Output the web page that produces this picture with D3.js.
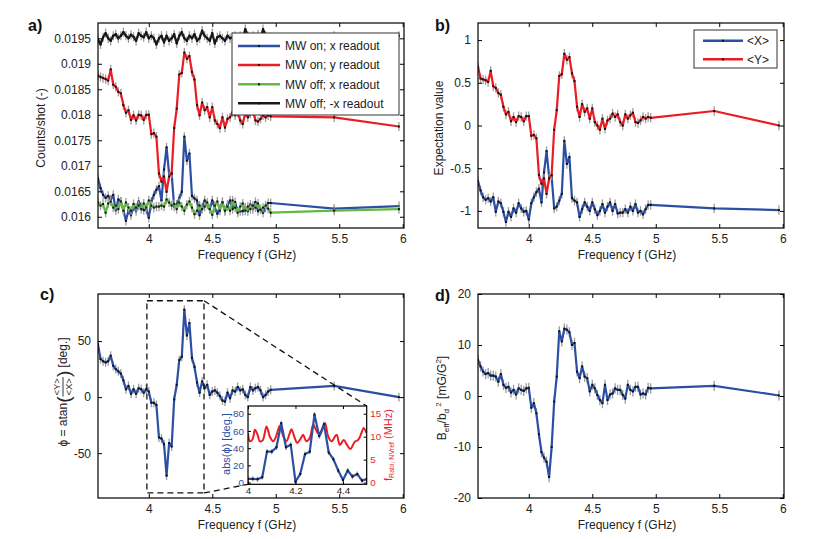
<!DOCTYPE html>
<html><head><meta charset="utf-8">
<script src="https://cdn.jsdelivr.net/npm/d3@7"></script>
<style>
body{margin:0;background:#fff;}
svg{font-family:"Liberation Sans",Arial,Helvetica,sans-serif;}
</style></head><body>
<svg id="c" width="830" height="539"></svg>
<script>
// ---------------- data ----------------
const freq = [3.60,3.62,3.64,3.66,3.68,3.70,3.72,3.74,3.76,3.78,3.80,3.82,3.84,3.86,3.88,3.90,3.92,3.94,3.96,3.98,
  4.00,4.02,4.04,4.06,4.08,4.10,4.12,4.14,4.16,4.18,4.20,4.22,4.24,4.26,4.28,4.30,4.32,4.34,4.36,4.38,
  4.40,4.42,4.44,4.46,4.48,4.50,4.52,4.54,4.56,4.58,4.60,4.62,4.64,4.66,4.68,4.70,4.72,4.74,4.76,4.78,
  4.80,4.82,4.84,4.86,4.88,4.90,4.92,4.94,4.96,5.46,5.97];

const countsOnX = [0.01675,0.01656,0.01643,0.01637,0.01641,0.01634,0.01643,0.01613,0.01634,0.01630,
  0.01613,0.01592,0.01613,0.01603,0.01620,0.01611,0.01630,0.01620,0.01613,0.01615,
  0.01598,0.01630,0.01643,0.01653,0.01660,0.01632,0.01693,0.01736,0.01684,0.01684,
  0.01620,0.01624,0.01636,0.01649,0.01757,0.01710,0.01724,0.01641,0.01636,0.01632,
  0.01603,0.01618,0.01632,0.01624,0.01615,0.01632,0.01618,0.01606,0.01615,0.01629,
  0.01611,0.01624,0.01632,0.01615,0.01629,0.01610,0.01611,0.01611,0.01618,0.01611,
  0.01624,0.01615,0.01629,0.01611,0.01615,0.01608,0.01618,0.01627,0.01627,0.01616,0.01621];

const countsOnY = [0.01877,0.01874,0.01872,0.01870,0.01867,0.01889,0.01859,0.01855,0.01845,0.01842,
  0.01819,0.01804,0.01809,0.01790,0.01799,0.01789,0.01800,0.01799,0.01790,0.01800,
  0.01800,0.01762,0.01764,0.01757,0.01685,0.01669,0.01679,0.01649,0.01679,0.01685,
  0.01774,0.01812,0.01879,0.01882,0.01922,0.01910,0.01915,0.01884,0.01869,0.01819,
  0.01799,0.01824,0.01809,0.01815,0.01795,0.01815,0.01789,0.01782,0.01774,0.01795,
  0.01775,0.01792,0.01795,0.01805,0.01799,0.01804,0.01789,0.01782,0.01804,0.01795,
  0.01802,0.01807,0.01789,0.01787,0.01792,0.01799,0.01795,0.01799,0.01797,0.01795,0.01777];

const countsOffX = [0.01628,0.01622,0.01625,0.01608,0.01626,0.01630,0.01618,0.01622,0.01615,0.01630,
  0.01612,0.01628,0.01618,0.01612,0.01625,0.01618,0.01622,0.01615,0.01626,0.01618,
  0.01632,0.01622,0.01618,0.01620,0.01620,0.01622,0.01620,0.01634,0.01628,0.01622,
  0.01625,0.01615,0.01628,0.01620,0.01612,0.01624,0.01630,0.01618,0.01605,0.01612,
  0.01622,0.01615,0.01620,0.01628,0.01615,0.01604,0.01622,0.01630,0.01612,0.01628,
  0.01612,0.01620,0.01612,0.01632,0.01618,0.01608,0.01620,0.01626,0.01612,0.01620,
  0.01615,0.01622,0.01618,0.01626,0.01614,0.01618,0.01622,0.01616,0.01608,0.01612,0.01615];

const countsOffMinusX = [0.01948,0.01938,0.01952,0.01960,0.01950,0.01945,0.01955,0.01958,0.01950,0.01955,
  0.01962,0.01955,0.01950,0.01957,0.01953,0.01945,0.01960,0.01955,0.01952,0.01962,
  0.01950,0.01955,0.01950,0.01938,0.01950,0.01955,0.01942,0.01955,0.01945,0.01950,
  0.01958,0.01940,0.01955,0.01962,0.01950,0.01945,0.01955,0.01950,0.01958,0.01945,
  0.01950,0.01965,0.01955,0.01950,0.01945,0.01960,0.01940,0.01952,0.01955,0.01950,
  0.01945,0.01955,0.01950,0.01952,0.01955,0.01950,0.01955,0.01950,0.01968,0.01955,
  0.01950,0.01955,0.01952,0.01958,0.01950,0.01968,0.01955,0.01950,0.01952,0.01955,0.01955];

const expX = [-0.65,-0.76,-0.84,-0.87,-0.85,-0.89,-0.84,-1.01,-0.89,-0.91,
  -1.01,-1.13,-1.01,-1.07,-0.97,-1.02,-0.91,-0.97,-1.01,-1.00,
  -1.10,-0.91,-0.84,-0.78,-0.74,-0.90,-0.55,-0.30,-0.60,-0.60,
  -0.97,-0.95,-0.88,-0.80,-0.18,-0.45,-0.37,-0.85,-0.88,-0.90,
  -1.07,-0.98,-0.90,-0.95,-1.00,-0.90,-0.98,-1.05,-1.00,-0.92,
  -1.02,-0.95,-0.90,-1.00,-0.92,-1.03,-1.02,-1.02,-0.98,-1.02,
  -0.95,-1.00,-0.92,-1.02,-1.00,-1.04,-0.98,-0.93,-0.93,-0.97,-0.99];

const expY = [0.69,0.55,0.54,0.53,0.51,0.64,0.46,0.44,0.38,0.36,
  0.22,0.13,0.16,0.05,0.10,0.04,0.11,0.10,0.05,0.11,
  0.11,-0.12,-0.11,-0.15,-0.58,-0.68,-0.62,-0.80,-0.62,-0.58,
  -0.05,0.18,0.58,0.60,0.84,0.77,0.80,0.61,0.52,0.22,
  0.10,0.25,0.16,0.20,0.08,0.20,0.04,0.00,-0.05,0.08,
  -0.04,0.06,0.08,0.14,0.10,0.13,0.04,0.00,0.13,0.08,
  0.12,0.15,0.04,0.03,0.06,0.10,0.08,0.10,0.09,0.17,0.00];

const phi = [47,34,32,31,32,37,28,25,23,21,
  15,7,10,3,7,3,8,7,4,7,
  5,-5,-5,-7,-36,-37,-42,-70,-41,-44,
  -2,11,33,36,78,55,66,35,27,13,
  4,14,8,11,2,5,6,4,1,-3,
  -4,4,-1,6,5,9,6,7,2,0,
  9,6,8,9,6,0,2,5,6.5,10,0];

const bEff = [7.1,5.8,4.8,4.3,4.5,4.0,4.0,3.8,2.8,4.3,
  2.2,1.6,1.8,0.7,1.2,0.3,1.5,1.2,1.0,1.5,
  1.6,-2.3,-1.4,-3.4,-7.5,-11,-12.1,-12.9,-15.9,-10,
  -1.1,3.8,12.7,10.7,13.2,13,12.5,10,10.4,4.8,
  3.5,5.8,3.8,3.5,0.9,2.2,1.5,0.2,-0.8,-1.4,
  2.2,-0.8,0.3,0.5,1.5,1.2,1.2,0.2,-0.5,2.2,
  1.2,0.9,1.8,1.8,0.3,0.5,0.3,1.6,1.5,2.0,0.1];

const insetFreq = [4.00,4.02,4.04,4.06,4.08,4.10,4.12,4.14,4.16,4.18,4.20,4.22,4.24,4.26,4.28,4.30,4.32,4.34,4.36,4.38,4.40,4.42,4.44,4.46,4.48,4.50];
const insetAbsPhi = [4.3,4.3,3.9,6.2,36,36,41,69,41,44,1.2,10,33,36,79,54,68,35,27,14,3,14,7,10,2.3,4];

const rabiFreq = [4.000,4.008,4.020,4.029,4.039,4.050,4.062,4.078,4.092,4.106,4.118,4.134,4.148,4.162,4.176,4.183,4.197,4.207,4.221,4.232,4.246,4.260,4.275,4.289,4.303,4.324,4.338,4.352,4.373,4.387,4.403,4.417,4.431,4.450,4.464,4.478,4.487,4.499];
const rabiVal  = [10.8,9.0,9.5,11.5,10.6,9.0,9.2,12.2,10.0,9.0,10.0,12.4,10.2,9.0,10.8,11.6,9.7,8.6,9.5,10.4,9.0,9.7,12.6,11.2,10.4,13.0,10.0,9.0,10.4,8.2,9.3,8.2,7.3,8.9,9.3,10.8,11.9,10.8];

const xTicks = [4,4.5,5,5.5,6];
const aTicks = [0.016,0.0165,0.017,0.0175,0.018,0.0185,0.019,0.0195];
const bTicks = [-1,-0.5,0,0.5,1];
const cTicks = [-50,0,50];
const dTicks = [-20,-10,0,10,20];
const insetXTicks = [4,4.2,4.4];
const insetLTicks = [0,20,40,60,80];
const insetRTicks = [0,5,10,15];
const legendA = ["MW on; x readout","MW on; y readout","MW off; x readout","MW off; -x readout"];
const legendB = ["<X>","<Y>"];

const errA = 0.00009, errB = 0.055, errC = 4, errD = 1.0, errI = 3;
const BLUE = "#2c4ea3", RED = "#ec1c24", GREEN = "#62b946", BLACK = "#1a1a1a";

// ---------------- helpers ----------------
const svg = d3.select("#c");
let clipN = 0;
function makePanel(o){
  const x = d3.scaleLinear().domain(o.xd).range([o.l, o.r]);
  const y = d3.scaleLinear().domain(o.yd).range([o.b, o.t]);
  const id = "clip" + (clipN++);
  svg.append("clipPath").attr("id", id).append("rect")
    .attr("x", o.l).attr("y", o.t).attr("width", o.r - o.l).attr("height", o.b - o.t);
  const g = svg.append("g");
  if (o.fill) g.append("rect").attr("x", o.l).attr("y", o.t).attr("width", o.r - o.l).attr("height", o.b - o.t).attr("fill", "#fff");
  const data = g.append("g").attr("clip-path", `url(#${id})`);
  return {x, y, g, data, o};
}
function drawAxes(p, cfg){
  const o = p.o, tk = cfg.tk || 4, fs = cfg.fs || 12;
  const ax = p.g.append("g");
  const b = ax.append("g").attr("transform", `translate(0,${o.b})`)
    .call(d3.axisBottom(p.x).tickValues(cfg.xt).tickFormat(String).tickSizeInner(-tk).tickSizeOuter(0).tickPadding(cfg.xpad || 6));
  b.selectAll("text").attr("fill", cfg.xcol || "#222");
  ax.append("g").attr("transform", `translate(0,${o.t})`)
    .call(d3.axisTop(p.x).tickValues(cfg.xt).tickFormat(() => "").tickSizeInner(-tk).tickSizeOuter(0));
  const l = ax.append("g").attr("transform", `translate(${o.l},0)`)
    .call(d3.axisLeft(p.y).tickValues(cfg.yt).tickFormat(String).tickSizeInner(-tk).tickSizeOuter(0).tickPadding(cfg.ypad || 7));
  l.selectAll("text").attr("fill", cfg.ycol || "#222");
  const ry = cfg.ry || p.y;
  const r = ax.append("g").attr("transform", `translate(${o.r},0)`)
    .call(d3.axisRight(ry).tickValues(cfg.ryt || cfg.yt).tickFormat(cfg.ryt ? String : () => "").tickSizeInner(-tk).tickSizeOuter(0).tickPadding(cfg.rpad || 5));
  r.selectAll("text").attr("fill", cfg.rcol || "#222");
  ax.selectAll(".domain").remove();
  ax.selectAll(".tick line").attr("stroke", "#000").attr("stroke-width", 1);
  ax.selectAll("text").attr("font-size", fs).attr("font-family", "Liberation Sans, Arial, sans-serif");
  ax.append("rect").attr("x", o.l).attr("y", o.t).attr("width", o.r - o.l).attr("height", o.b - o.t)
    .attr("fill", "none").attr("stroke", "#000").attr("stroke-width", 1.2);
}
function drawSeries(p, xs, ys, color, err, yScale){
  const ysc = yScale || p.y;
  const pts = xs.map((f, i) => ({f: f, v: ys[i]}));
  const g = p.data.append("g");
  g.selectAll("line").data(pts).join("line")
    .attr("x1", d => p.x(d.f)).attr("x2", d => p.x(d.f))
    .attr("y1", d => ysc(d.v - err)).attr("y2", d => ysc(d.v + err))
    .attr("stroke", "#9c9c9c").attr("stroke-width", 1.3);
  g.append("path").datum(pts)
    .attr("d", d3.line().x(d => p.x(d.f)).y(d => ysc(d.v)))
    .attr("fill", "none").attr("stroke", color).attr("stroke-width", 2.2).attr("stroke-linejoin", "round");
  g.selectAll("rect").data(pts).join("rect")
    .attr("x", d => p.x(d.f) - 1).attr("y", d => ysc(d.v) - 1)
    .attr("width", 2).attr("height", 2).attr("fill", "#111");
}
function label(text, x, y, opts){
  opts = opts || {};
  const t = svg.append("text").attr("x", x).attr("y", y)
    .attr("font-size", opts.fs || 12).attr("fill", opts.fill || "#222")
    .attr("text-anchor", opts.anchor || "middle");
  if (opts.bold) t.attr("font-weight", "bold");
  if (opts.rot) t.attr("transform", `rotate(-90,${x},${y})`);
  t.text(text);
  return t;
}
function legend(p, items, colors, box, rows, lineX, textX){
  const g = p.g.append("g");
  g.append("rect").attr("x", box[0]).attr("y", box[1]).attr("width", box[2]).attr("height", box[3])
    .attr("fill", "#fff").attr("stroke", "#333").attr("stroke-width", 1);
  items.forEach((s, i) => {
    const yy = rows[i];
    g.append("line").attr("x1", lineX[0]).attr("x2", lineX[1]).attr("y1", yy).attr("y2", yy)
      .attr("stroke", colors[i]).attr("stroke-width", 2.5);
    g.append("rect").attr("x", (lineX[0] + lineX[1]) / 2 - 1).attr("y", yy - 1).attr("width", 2).attr("height", 2).attr("fill", "#111");
    g.append("text").attr("x", textX).attr("y", yy + 4.3).attr("font-size", 12).attr("fill", "#222").text(s);
  });
}

const XD = [3.6, 6.01];

// ---------------- panel a ----------------
const pa = makePanel({l: 98, r: 404, t: 23, b: 228, xd: XD, yd: [0.01578, 0.0198]});
drawSeries(pa, freq, countsOnX, BLUE, errA);
drawSeries(pa, freq, countsOnY, RED, errA);
drawSeries(pa, freq, countsOffX, GREEN, errA);
drawSeries(pa, freq, countsOffMinusX, BLACK, errA);
drawAxes(pa, {xt: xTicks, yt: aTicks});
legend(pa, legendA, [BLUE, RED, GREEN, BLACK], [232, 33, 167, 82], [46, 65, 84.3, 103.3], [238, 280], 285);

// ---------------- panel b ----------------
const pb = makePanel({l: 478, r: 784, t: 23, b: 228, xd: XD, yd: [-1.2, 1.2]});
drawSeries(pb, freq, expX, BLUE, errB);
drawSeries(pb, freq, expY, RED, errB);
drawAxes(pb, {xt: xTicks, yt: bTicks});
legend(pb, legendB, [BLUE, RED], [694, 30, 83, 38], [40.7, 59.3], [703, 743], 747);

// ---------------- panel c ----------------
const pc = makePanel({l: 98, r: 404, t: 294, b: 498, xd: XD, yd: [-90, 92]});
drawSeries(pc, freq, phi, BLUE, errC);
drawAxes(pc, {xt: xTicks, yt: cTicks});

// inset
const pi = makePanel({l: 248, r: 366.7, t: 406, b: 484.3, xd: [4, 4.5], yd: [-2, 89], fill: true});
const yR = d3.scaleLinear().domain([-2 * 15 / 80, 89 * 15 / 80]).range([484.3, 406]);

// dashed zoom box + connectors (in data coordinates)
const dash = pc.g.append("g").attr("stroke", "#111").attr("stroke-width", 1.3).attr("stroke-dasharray", "6,4").attr("fill", "none");
dash.append("rect").attr("x", pc.x(3.985)).attr("y", pc.y(86)).attr("width", pc.x(4.435) - pc.x(3.985)).attr("height", pc.y(-85.5) - pc.y(86));
dash.append("line").attr("x1", pc.x(4.435)).attr("y1", pc.y(86)).attr("x2", pi.x(4.5)).attr("y2", pi.y(89));
dash.append("line").attr("x1", pc.x(4.435)).attr("y1", pc.y(-85.5)).attr("x2", pi.x(4)).attr("y2", pi.y(-2));
pi.g.raise();

pi.data.append("path").datum(rabiFreq.map((f, i) => [f, rabiVal[i]]))
  .attr("d", d3.line().x(d => pi.x(d[0])).y(d => yR(d[1])).curve(d3.curveCatmullRom))
  .attr("fill", "none").attr("stroke", RED).attr("stroke-width", 2);
drawSeries(pi, insetFreq, insetAbsPhi, BLUE, errI);
drawAxes(pi, {xt: insetXTicks, yt: insetLTicks, ry: yR, ryt: insetRTicks, tk: 3, fs: 9.8,
  xpad: 3, ypad: 4, rpad: 3.5, ycol: BLUE, rcol: RED, xcol: "#222"});

// ---------------- panel d ----------------
const pd = makePanel({l: 478, r: 784, t: 294, b: 498, xd: XD, yd: [-20, 20]});
drawSeries(pd, freq, bEff, BLUE, errD);
drawAxes(pd, {xt: xTicks, yt: dTicks});

// ---------------- texts ----------------
label("a)", 28, 31, {fs: 16, bold: true, anchor: "start", fill: "#111"});
label("b)", 435, 31, {fs: 16, bold: true, anchor: "start", fill: "#111"});
label("c)", 40, 300, {fs: 16, bold: true, anchor: "start", fill: "#111"});
label("d)", 435, 301, {fs: 16, bold: true, anchor: "start", fill: "#111"});

label("Frequency f (GHz)", 247, 259);
label("Frequency f (GHz)", 627, 259);
label("Frequency f (GHz)", 247, 529);
label("Frequency f (GHz)", 627, 529);

label("Counts/shot (-)", 45, 128, {rot: true});
label("Expectation value", 443, 128, {rot: true});

// panel c y label with fraction
(function(){
  const g = svg.append("g").attr("transform", "translate(67,392) rotate(-90)").attr("fill", "#222");
  const t1 = g.append("text").attr("font-size", 12).text("\u03D5 = atan");
  const p1 = g.append("text").attr("font-size", 19).attr("y", 3).text("(");
  const num = g.append("text").attr("font-size", 9.5).attr("y", -7).attr("text-anchor", "middle").text("<Y>");
  const den = g.append("text").attr("font-size", 9.5).attr("y", 5).attr("text-anchor", "middle").text("<X>");
  const p2 = g.append("text").attr("font-size", 19).attr("y", 3).text(")");
  const t2 = g.append("text").attr("font-size", 12).text("\u00A0[deg.]");
  const w1 = t1.node().getComputedTextLength(), wp = p1.node().getComputedTextLength();
  const wf = Math.max(num.node().getComputedTextLength(), den.node().getComputedTextLength()) + 2;
  const w2 = t2.node().getComputedTextLength();
  const total = w1 + 2 * wp + wf + w2;
  let x0 = -total / 2;
  t1.attr("x", x0); x0 += w1;
  p1.attr("x", x0); x0 += wp;
  num.attr("x", x0 + wf / 2); den.attr("x", x0 + wf / 2);
  g.append("line").attr("x1", x0).attr("x2", x0 + wf).attr("y1", -4).attr("y2", -4).attr("stroke", "#222").attr("stroke-width", 0.9);
  x0 += wf;
  p2.attr("x", x0); x0 += wp;
  t2.attr("x", x0);
})();

// panel d y label
(function(){
  const t = svg.append("text").attr("transform", "translate(446,398) rotate(-90)")
    .attr("text-anchor", "middle").attr("font-size", 12).attr("fill", "#222");
  t.append("tspan").text("B");
  t.append("tspan").attr("font-size", 8).attr("dy", 3).text("eff");
  t.append("tspan").attr("dy", -3).text("/b");
  t.append("tspan").attr("font-size", 8).attr("dy", 3).text("d");
  t.append("tspan").attr("font-size", 8).attr("dy", -8).text("\u00A02");
  t.append("tspan").attr("dy", 5).text("\u00A0[mG/G");
  t.append("tspan").attr("font-size", 8).attr("dy", -5).text("2");
  t.append("tspan").attr("dy", 5).text("]");
})();

// inset axis labels
label("abs(\u03D5) [deg.]", 230, 444, {rot: true, fs: 11, fill: BLUE});
(function(){
  const t = svg.append("text").attr("transform", "translate(391.5,445) rotate(-90)")
    .attr("text-anchor", "middle").attr("font-size", 11).attr("fill", RED);
  t.append("tspan").text("f");
  t.append("tspan").attr("font-size", 7).attr("dy", 2.5).text("Rabi, NVref");
  t.append("tspan").attr("dy", -2.5).text("\u00A0(MHz)");
})();
</script>
</body></html>
